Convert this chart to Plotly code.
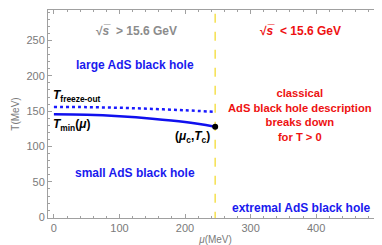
import plotly.graph_objects as go

mu_min = [0, 50, 100, 150, 200, 246]
T_min = [145.5, 144.8, 142.7, 139.3, 134.6, 128]
mu_fo = [0, 50, 100, 150, 200, 246]
T_fo = [156, 155.7, 154.8, 153.2, 151.3, 149]
mu_c = [246]
T_c = [128]

fig = go.Figure()
fig.add_trace(go.Scatter(x=[mu_c[0], mu_c[0]], y=[-5, 300], mode="lines",
                         line=dict(color="#f5e050", width=1.5, dash="dash"), hoverinfo="skip"))
fig.add_trace(go.Scatter(x=mu_fo, y=T_fo, mode="lines", line=dict(color="#1a1aff", width=2.5, dash="dot", shape="spline")))
fig.add_trace(go.Scatter(x=mu_min, y=T_min, mode="lines", line=dict(color="#1010ee", width=2.5, shape="spline")))
fig.add_trace(go.Scatter(x=mu_c, y=T_c, mode="markers", marker=dict(color="black", size=6)))

F = "Liberation Sans, Arial, sans-serif"
def ann(x, y, text, color, size=12, xanchor="center"):
    fig.add_annotation(x=x, y=y, text=text, showarrow=False, xref="x", yref="y",
                       font=dict(family=F, size=size, color=color), xanchor=xanchor, yanchor="middle")

ann(126, 263, "<b>√<i>s̅</i>  > 15.6 GeV</b>", "#8c8c8c")
ann(376, 263, "<b>√<i>s̅</i>  < 15.6 GeV</b>", "#ee1111")
ann(124, 215, "<b>large AdS black hole</b>", "#1a1aee")
ann(-5, 172, "<b><i>T</i><sub>freeze-out</sub></b>", "black", xanchor="left")
ann(-5, 130, "<b><i>T</i><sub>min</sub>(<i>μ</i>)</b>", "black", xanchor="left")
ann(182, 113, "<b>(<i>μ</i><sub>c</sub>,<i>T</i><sub>c</sub>)</b>", "black", xanchor="left")
ann(124, 63, "<b>small AdS black hole</b>", "#1a1aee")
ann(378, 13, "<b>extremal AdS black hole</b>", "#1a1aee")
ann(376, 145, "<b>classical<br>AdS black hole description<br>breaks down<br>for T > 0</b>", "#ee1111", size=11.2)

axcommon = dict(showgrid=False, zeroline=False, showline=True, linecolor="#a0a0a0", linewidth=1,
                mirror="allticks", ticks="inside", ticklen=4, tickcolor="#a0a0a0",
                tickfont=dict(family=F, size=11, color="#7a7a7a"))
fig.update_xaxes(range=[-9, 502], tick0=0, dtick=100,
                 minor=dict(ticks="inside", ticklen=2, dtick=20, tickcolor="#a0a0a0"),
                 title=dict(text="<i>μ</i>(MeV)", font=dict(family=F, size=10, color="#7a7a7a"), standoff=2),
                 **axcommon)
fig.update_yaxes(range=[-1, 293], tick0=0, dtick=50,
                 minor=dict(ticks="inside", ticklen=2, dtick=10, tickcolor="#a0a0a0"),
                 title=dict(text="T(MeV)", font=dict(family=F, size=10, color="#7a7a7a"), standoff=4),
                 **axcommon)
fig.update_layout(width=382, height=245, margin=dict(l=40, r=7, t=2, b=35),
                  plot_bgcolor="white", paper_bgcolor="white", showlegend=False)
fig.write_html("out.html")
